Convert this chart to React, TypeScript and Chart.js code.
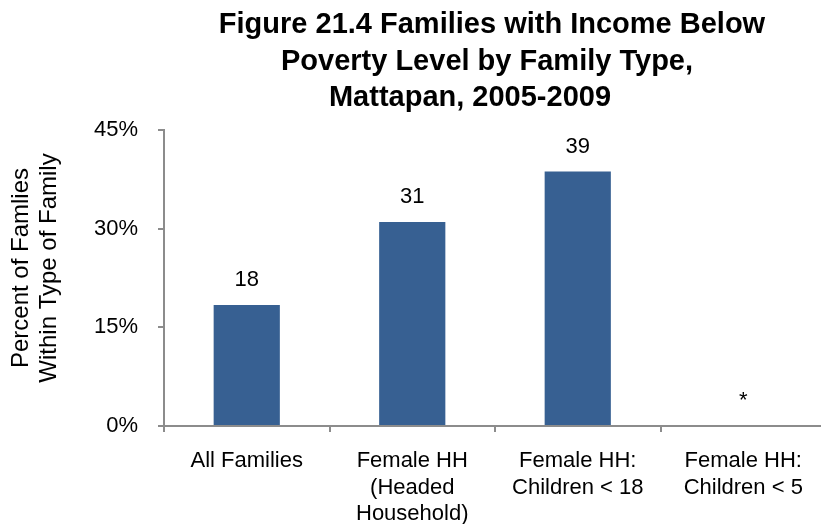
import React, { useEffect, useRef } from "react";
import { Chart, registerables } from "chart.js";

Chart.register(...registerables);

const TITLE_LINES = [
  "Figure 21.4 Families with Income Below",
  "Poverty Level by Family Type,",
  "Mattapan, 2005-2009",
];
const CATEGORIES = [
  ["All Families"],
  ["Female HH", "(Headed", "Household)"],
  ["Female HH:", "Children < 18"],
  ["Female HH:", "Children < 5"],
];
const VALUES: (number | null)[] = [18.4, 31.0, 38.7, null];
const VALUE_LABELS = ["18", "31", "39", "*"];
const Y_TICKS = [0, 15, 30, 45];
const Y_TITLE = ["Percent of Famlies", "Within Type of Family"];

const FAMILY = '"Liberation Sans", Arial, Helvetica, sans-serif';
const AXIS_COLOR = "#8c8c8c";
const BAR_COLOR = "rgb(55,96,146)";

const titlePlugin = {
  id: "customTitle",
  afterDraw(chart: any) {
    const ctx = chart.ctx;
    const centers = [492, 487, 470];
    const baselines = [33, 70, 106];
    ctx.save();
    ctx.font = `bold 29px ${FAMILY}`;
    ctx.fillStyle = "#000";
    ctx.textAlign = "center";
    ctx.textBaseline = "alphabetic";
    TITLE_LINES.forEach((line, i) => {
      ctx.fillText(line, centers[i], baselines[i]);
    });
    ctx.restore();
  },
};

const yTitlePlugin = {
  id: "yTitle",
  afterDraw(chart: any) {
    const ctx = chart.ctx;
    const area = chart.chartArea;
    const cy = (area.top + area.bottom) / 2 - 10;
    const xs = [21, 49.5];
    ctx.save();
    ctx.font = `24px ${FAMILY}`;
    ctx.fillStyle = "#000";
    ctx.textAlign = "center";
    ctx.textBaseline = "middle";
    Y_TITLE.forEach((line, i) => {
      ctx.save();
      ctx.translate(xs[i], cy);
      ctx.rotate(-Math.PI / 2);
      ctx.fillText(line, 0, 0);
      ctx.restore();
    });
    ctx.restore();
  },
};

const valueLabelPlugin = {
  id: "valueLabels",
  afterDatasetsDraw(chart: any) {
    const ctx = chart.ctx;
    const xs = chart.scales.x;
    const ys = chart.scales.y;
    ctx.save();
    ctx.font = `22px ${FAMILY}`;
    ctx.fillStyle = "#000";
    ctx.textAlign = "center";
    ctx.textBaseline = "middle";
    VALUES.forEach((v, i) => {
      const x = xs.getPixelForValue(i);
      const y = ys.getPixelForValue(v ?? 0) - 25;
      ctx.fillText(VALUE_LABELS[i], x, y);
    });
    ctx.restore();
  },
};

export default function App() {
  const ref = useRef<HTMLCanvasElement | null>(null);

  useEffect(() => {
    if (!ref.current) return;
    const chart = new Chart(ref.current, {
      type: "bar",
      data: {
        labels: CATEGORIES,
        datasets: [
          {
            data: VALUES,
            backgroundColor: BAR_COLOR,
            borderWidth: 0,
            barPercentage: 0.4,
            categoryPercentage: 1,
          },
        ],
      },
      options: {
        responsive: false,
        animation: false,
        devicePixelRatio: 1,
        layout: { padding: { top: 130, left: 0, right: 0, bottom: 0 } },
        plugins: {
          legend: { display: false },
          title: { display: false },
          tooltip: { enabled: false },
        },
        scales: {
          x: {
            ticks: {
              font: { size: 22, family: FAMILY, lineHeight: 1.2 },
              color: "#000",
              padding: 16,
              autoSkip: false,
              maxRotation: 0,
              minRotation: 0,
            },
            grid: {
              drawOnChartArea: false,
              drawTicks: true,
              tickLength: 6,
              color: AXIS_COLOR,
              lineWidth: 2,
              offset: true,
            },
            border: { color: AXIS_COLOR, width: 2 },
            afterFit: (s: any) => {
              s.height = 98;
            },
          },
          y: {
            min: 0,
            max: 45,
            afterBuildTicks: (s: any) => {
              s.ticks = Y_TICKS.map((v) => ({ value: v }));
            },
            ticks: {
              callback: (v: any) => `${v}%`,
              font: { size: 22, family: FAMILY },
              color: "#000",
              padding: 20,
            },
            grid: {
              drawOnChartArea: false,
              drawTicks: true,
              tickLength: 6,
              color: AXIS_COLOR,
              lineWidth: 2,
            },
            border: { color: AXIS_COLOR, width: 2 },
            title: { display: false },
            afterFit: (s: any) => {
              s.width = 164;
            },
          },
        },
      },
      plugins: [titlePlugin, yTitlePlugin, valueLabelPlugin],
    } as any);
    return () => chart.destroy();
  }, []);

  return (
    <div
      style={{
        position: "absolute",
        left: 0,
        top: 0,
        width: 821,
        height: 524,
        overflow: "hidden",
        background: "#fff",
      }}
    >
      <canvas ref={ref} width={826} height={524} style={{ display: "block" }} />
    </div>
  );
}
